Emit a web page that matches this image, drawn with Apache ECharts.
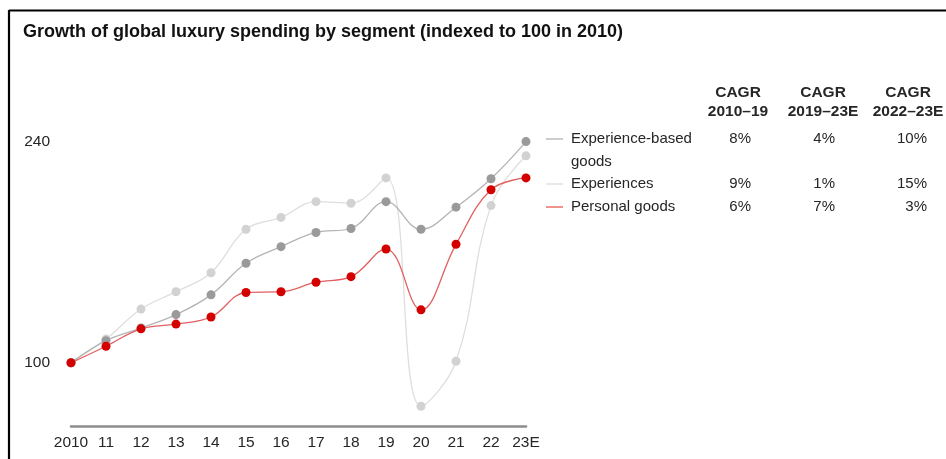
<!DOCTYPE html>
<html>
<head>
<meta charset="utf-8">
<script src="https://cdn.jsdelivr.net/npm/echarts@6/dist/echarts.min.js"></script>
<style>
  html, body { margin: 0; padding: 0; background: #fff; }
  #chart { width: 946px; height: 459px; }
</style>
</head>
<body>
<div id="chart"></div>
<script>
// Index values (2010 = 100)
const years = ['2010', '11', '12', '13', '14', '15', '16', '17', '18', '19', '20', '21', '22', '23E'];
const experienceBasedGoods = [100, 114, 122, 130.5, 143, 163, 173.5, 182.5, 185, 202, 184.5, 198.5, 216.5, 240];
const experiences = [100, 115, 134, 145, 157, 184.5, 192, 202, 201, 217, 72.5, 101, 199.5, 231];
const personalGoods = [100, 110.5, 121.5, 124.5, 129, 144.5, 145, 151, 154.5, 172, 133.5, 175, 209.5, 217];
const yTickLabels = [100, 240];

// CAGR table
const cagrHeaders = [['CAGR', '2010–19'], ['CAGR', '2019–23E'], ['CAGR', '2022–23E']];
const segmentNames = [['Experience-based', 'goods'], ['Experiences'], ['Personal goods']];
const cagrValues = [
  ['8%', '4%', '10%'],
  ['9%', '1%', '15%'],
  ['6%', '7%', '3%']
];

const FONT = '"Liberation Sans", Arial, sans-serif';
const TXT = '#262626';

const palette = {
  goods: { line: '#b4b4b4', dot: '#9a9a9a', key: '#bdbdbd' },
  exp: { line: '#dedede', dot: '#d2d2d2', key: '#e2e2e2' },
  personal: { line: '#e06060', dot: '#d40000', key: '#e8706a' }
};

function lineSeries(name, data, c) {
  return {
    name, type: 'line', data,
    smooth: 0.4,
    symbol: 'circle', symbolSize: 9,
    lineStyle: { color: c.line, width: 1.3 },
    itemStyle: { color: c.dot },
    emphasis: { disabled: true },
    animation: false
  };
}

// Table + key as graphic text
const graphics = [];
// frame
graphics.push({ type: 'line', shape: { x1: 9, y1: 10.5, x2: 946, y2: 10.5 }, style: { stroke: '#000', lineWidth: 2.2 } });
graphics.push({ type: 'line', shape: { x1: 9, y1: 10, x2: 9, y2: 459 }, style: { stroke: '#000', lineWidth: 2.2 } });

const colCenters = [738, 823, 908];
const colRight = [751, 835, 927];
cagrHeaders.forEach((h, i) => {
  h.forEach((t, j) => {
    graphics.push({
      type: 'text', x: colCenters[i], y: 93 + j * 19,
      style: { text: t, font: 'bold 15.5px ' + FONT, fill: TXT, textAlign: 'center', textVerticalAlign: 'middle' }
    });
  });
});
const rowY = [139, 184, 207];
const keyColors = [palette.goods.key, palette.exp.key, palette.personal.key];
segmentNames.forEach((lines, r) => {
  graphics.push({ type: 'line', shape: { x1: 546, y1: rowY[r], x2: 563, y2: rowY[r] }, style: { stroke: keyColors[r], lineWidth: 1.5 } });
  lines.forEach((t, j) => {
    graphics.push({
      type: 'text', x: 571, y: rowY[r] + j * 22.5,
      style: { text: t, font: '15px ' + FONT, fill: TXT, textAlign: 'left', textVerticalAlign: 'middle' }
    });
  });
  cagrValues[r].forEach((v, c) => {
    graphics.push({
      type: 'text', x: colRight[c], y: rowY[r],
      style: { text: v, font: '15px ' + FONT, fill: TXT, textAlign: 'right', textVerticalAlign: 'middle' }
    });
  });
});

const chart = echarts.init(document.getElementById('chart'), null, { renderer: 'canvas' });
chart.setOption({
  backgroundColor: '#fff',
  animation: false,
  title: {
    text: 'Growth of global luxury spending by segment (indexed to 100 in 2010)',
    left: 18, top: 18,
    textStyle: { fontFamily: FONT, fontWeight: 'bold', fontSize: 18, color: '#111' }
  },
  grid: { left: 71, right: 420, top: 110, bottom: 33, containLabel: false },
  xAxis: {
    type: 'category', data: years, boundaryGap: false,
    axisLine: { lineStyle: { color: '#8c8c8c', width: 2.5 } },
    axisTick: { show: false },
    axisLabel: { fontFamily: FONT, fontSize: 15.5, color: TXT, margin: 9, interval: 0 }
  },
  yAxis: {
    type: 'value', min: 60, max: 260, interval: 20,
    axisLine: { show: false }, axisTick: { show: false }, splitLine: { show: false },
    axisLabel: {
      fontFamily: FONT, fontSize: 15.5, color: TXT, margin: 21,
      formatter: v => (yTickLabels.indexOf(v) >= 0 ? String(v) : '')
    }
  },
  series: [
    lineSeries('Experiences', experiences, palette.exp),
    lineSeries('Experience-based goods', experienceBasedGoods, palette.goods),
    lineSeries('Personal goods', personalGoods, palette.personal)
  ],
  graphic: graphics
});
</script>
</body>
</html>
